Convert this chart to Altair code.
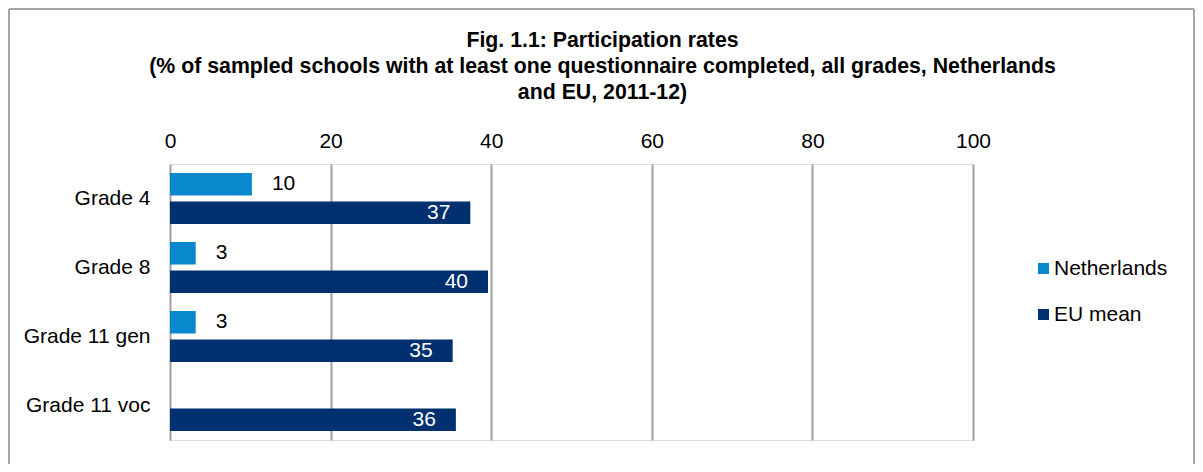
import altair as alt
import pandas as pd

# ---- data ----
grades = ["Grade 4", "Grade 8", "Grade 11 gen", "Grade 11 voc"]
series_order = ["Netherlands", "EU mean"]
netherlands = [10.2, 3.2, 3.2, None]
eu_mean = [37.4, 39.6, 35.2, 35.6]
colors = ["#0A88CE", "#00306F"]
tick_values = [0, 20, 40, 60, 80, 100]
title_lines = [
    "Fig. 1.1: Participation rates",
    "(% of sampled schools with at least one questionnaire completed, all grades, Netherlands",
    "and EU, 2011-12)",
]

rows = []
for g, nl, eu in zip(grades, netherlands, eu_mean):
    if nl is not None:
        rows.append({"grade": g, "series": "Netherlands", "value": nl})
    rows.append({"grade": g, "series": "EU mean", "value": eu})
df = pd.DataFrame(rows)

FONT = "Liberation Sans"
FS = 21

y_enc = alt.Y(
    "grade:N",
    sort=grades,
    scale=alt.Scale(paddingInner=0, paddingOuter=0),
    axis=alt.Axis(
        title=None, ticks=False, domain=False, grid=False,
        labelFontSize=FS, labelPadding=20, labelColor="black", labelFont=FONT,
    ),
)
yoff_enc = alt.YOffset(
    "series:N", sort=series_order,
    scale=alt.Scale(paddingInner=0.21, paddingOuter=0.316),
)
x_enc = alt.X(
    "value:Q",
    scale=alt.Scale(domain=[0, 100], nice=False),
    axis=alt.Axis(
        orient="top", values=tick_values, title=None, grid=True,
        gridColor="#A0A0A0", gridWidth=2, domain=False, ticks=False, tickSize=0,
        labelPadding=13, labelFontSize=FS, labelColor="black", labelFont=FONT,
        labelFlush=False,
    ),
)

base = alt.Chart(df)

bars = base.mark_bar().encode(
    x=x_enc,
    y=y_enc,
    yOffset=yoff_enc,
    color=alt.Color(
        "series:N",
        scale=alt.Scale(domain=series_order, range=colors),
        sort=series_order,
        legend=alt.Legend(
            title=None, orient="none", legendX=863, legendY=94, padding=0,
            symbolType="square", symbolSize=121, symbolStrokeWidth=0,
            labelFontSize=FS, labelFont=FONT, labelColor="black",
            labelOffset=0, rowPadding=24,
        ),
    ),
)

nl_text = base.transform_filter(alt.datum.series == "Netherlands").mark_text(
    align="left", baseline="middle", dx=20, fontSize=FS, font=FONT, color="black"
).encode(
    x="value:Q", y=alt.Y("grade:N", sort=grades), yOffset=yoff_enc,
    text=alt.Text("value:Q", format=".0f"),
)

eu_text = base.transform_filter(alt.datum.series == "EU mean").mark_text(
    align="right", baseline="middle", dx=-20, fontSize=FS, font=FONT, color="white"
).encode(
    x="value:Q", y=alt.Y("grade:N", sort=grades), yOffset=yoff_enc,
    text=alt.Text("value:Q", format=".0f"),
)

frame_df = pd.DataFrame({"k": [0]})
frame_color = "#A6A6A6"
frame_top = alt.Chart(frame_df).mark_rule(color=frame_color, strokeWidth=2).encode(
    x=alt.value(-161), x2=alt.value(1024), y=alt.value(-155)
)
frame_left = alt.Chart(frame_df).mark_rule(color=frame_color, strokeWidth=2).encode(
    x=alt.value(-161), y=alt.value(-155), y2=alt.value(400)
)
frame_right = alt.Chart(frame_df).mark_rule(color=frame_color, strokeWidth=2).encode(
    x=alt.value(1024), y=alt.value(-155), y2=alt.value(400)
)

chart = alt.layer(bars, nl_text, eu_text, frame_top, frame_left, frame_right).properties(
    width=803,
    height=276,
    title=alt.TitleParams(
        text=title_lines, fontSize=21.3, fontWeight="bold", font=FONT, color="black",
        anchor="middle", frame="group", dx=31, lineHeight=26, offset=-95,
    ),
    autosize=alt.AutoSizeParams(type="none"),
    padding={"left": 162, "top": 156, "right": 222, "bottom": 24},
).configure_view(stroke=None).configure(background="white")

chart.save("out.html", embed_options={"renderer": "svg", "actions": False})
